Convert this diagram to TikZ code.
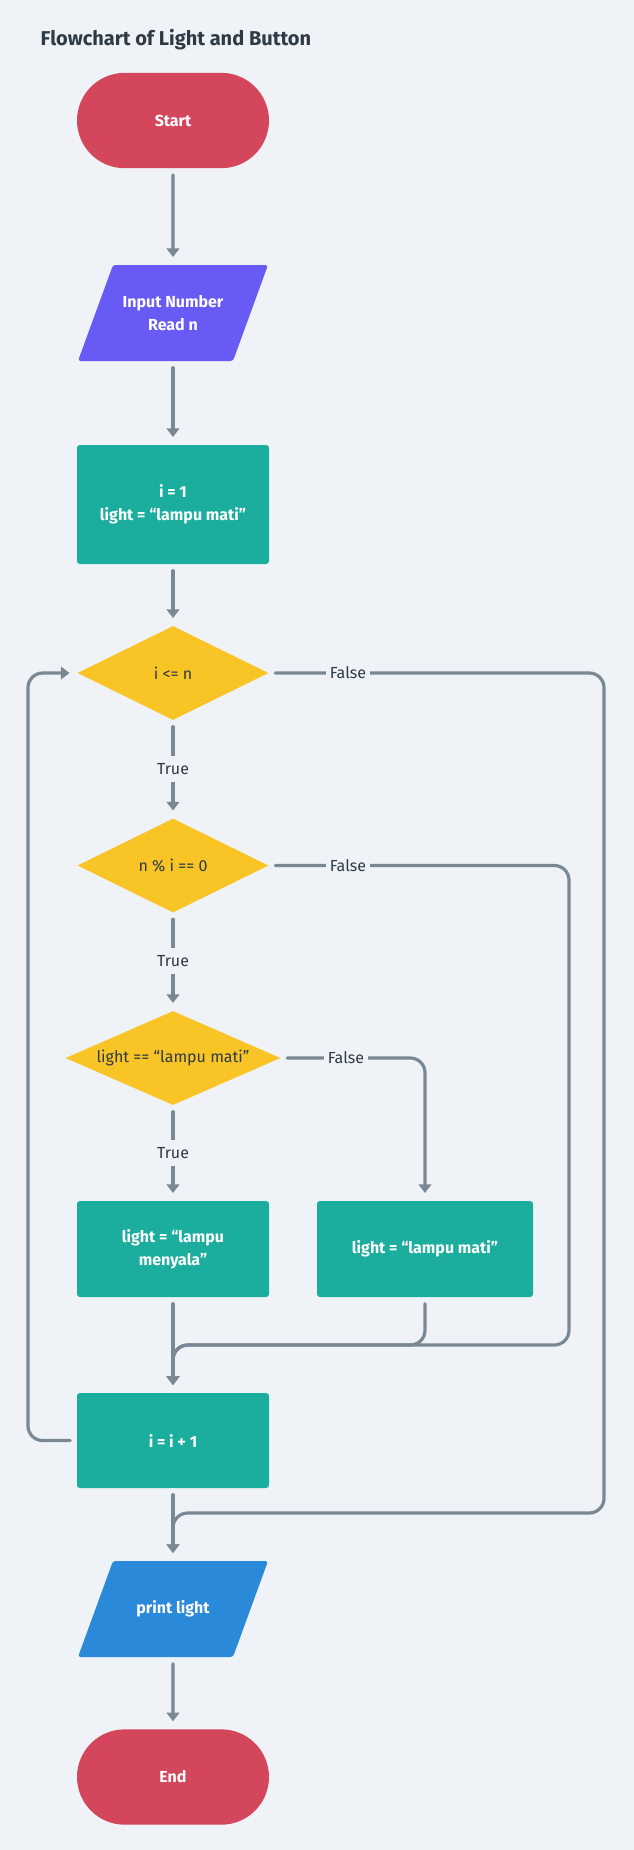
\documentclass[tikz,border=0pt]{standalone}
\usepackage{fontspec}
\setmainfont{Fira Sans}
\usetikzlibrary{shapes.geometric,shapes.misc,arrows.meta,calc}

\definecolor{bg}{HTML}{EFF3F7}
\definecolor{termc}{HTML}{D3465C}
\definecolor{inc}{HTML}{685BF5}
\definecolor{procc}{HTML}{1BAE9E}
\definecolor{decc}{HTML}{F8C426}
\definecolor{outc}{HTML}{2B89D9}
\definecolor{linec}{HTML}{7A8896}
\definecolor{darkt}{HTML}{2E3A46}

\tikzset{
  base/.style={font=\bfseries\fontsize{12}{17.25}\selectfont, text=white, align=center},
  terminal/.style={base, rounded rectangle, fill=termc, minimum width=144pt, minimum height=71.5pt, inner sep=0pt},
  % slanted input/output box: the parallelogram is filled inside the node's rectangle
  io/.style={base, rectangle, minimum width=142.5pt, minimum height=72pt, inner sep=0pt,
    path picture={
      \fill[#1, rounded corners=2pt]
        (path picture bounding box.south west)
        -- ($(path picture bounding box.south east)+(-26.25pt,0pt)$)
        -- (path picture bounding box.north east)
        -- ($(path picture bounding box.north west)+(26.25pt,0pt)$)
        -- cycle;}},
  proc/.style={base, rectangle, fill=procc, rounded corners=2.2pt, minimum width=144pt, minimum height=72pt, inner sep=0pt},
  decision/.style={base, diamond, fill=decc, text=darkt, font=\fontsize{12}{14}\selectfont,
    minimum width=143.25pt, minimum height=70.5pt, inner sep=0pt, aspect=2.2},
  conn/.style={draw=linec, line width=2.4pt, line cap=round, rounded corners=11pt,
    shorten <=4.8pt, shorten >=5.8pt},
  arr/.style={-{Triangle[width=9.5pt,length=6.5pt]}},
  lbl/.style={fill=bg, text=darkt, font=\fontsize{12}{14}\selectfont, inner xsep=2.6pt, inner ysep=0pt,
    minimum height=19.5pt}
}

\begin{document}
\begin{tikzpicture}[x=0.75pt,y=-0.75pt]
  % canvas
  \fill[bg] (0,0) rectangle (634,1850);
  \useasboundingbox (0,0) rectangle (634,1850);

  \node[anchor=west, font=\bfseries\fontsize{15}{18}\selectfont, text=darkt] (title) at (36,40)
    {Flowchart of Light and Button};

  % flow nodes
  \node[terminal] (start) at (173,120.5) {Start};
  \node[io=inc] (inp) at (173,313) {Input Number\\Read n};
  \node[proc, minimum height=89.25pt] (init) at (173,504.5) {i = 1\\light = “lampu mati”};
  \node[decision] (d1) at (173,673) {i <= n};
  \node[decision] (d2) at (173,865.5) {n \% i == 0};
  \node[decision, minimum width=161.25pt, aspect=2.6] (d3) at (173,1058) {light == “lampu mati”};
  \node[proc] (on) at (173,1249) {light = “lampu\\menyala”};
  \node[proc, minimum width=162pt] (off) at (425,1249) {light = “lampu mati”};
  \node[proc, minimum height=71.25pt] (step1) at (173,1440.5) {i = i + 1};
  \node[io=outc] (out) at (173,1609) {print light};
  \node[terminal] (stop) at (173,1777) {End};

  % routing points
  \coordinate (r1) at (604,673);
  \coordinate (j1) at (173,1513);
  \coordinate (r2) at (569,865.5);
  \coordinate (j2) at (173,1345);
  \coordinate (lx) at (28,673);

  % straight connectors
  \draw[conn,arr] (start) -- (inp);
  \draw[conn,arr] (inp) -- (init);
  \draw[conn,arr] (init) -- (d1);
  \draw[conn,arr] (d1) -- (d2);
  \draw[conn,arr] (d2) -- (d3);
  \draw[conn,arr] (d3) -- (on);
  \draw[conn,arr] (on) -- (step1);
  \draw[conn,arr] (step1) -- (out);
  \draw[conn,arr] (out) -- (stop);

  % branch connectors
  \draw[conn,arr] (d3.east) -| (off.north);
  \draw[conn,arr] (off.south) |- (j2) -- (step1.north);
  \draw[conn,arr] (d2.east) -- (r2) |- (j2) -- (step1.north);
  \draw[conn,arr] (d1.east) -- (r1) |- (j1) -- (out.north);
  \draw[conn,arr] (step1.west) -| (lx) -- (d1.west);

  % branch labels
  \node[lbl] (t1) at (173,769) {True};
  \node[lbl] (t2) at (173,961) {True};
  \node[lbl] (t3) at (173,1153) {True};
  \node[lbl] (f1) at (348,673) {False};
  \node[lbl] (f2) at (348,865.5) {False};
  \node[lbl] (f3) at (346,1058) {False};
\end{tikzpicture}
\end{document}
